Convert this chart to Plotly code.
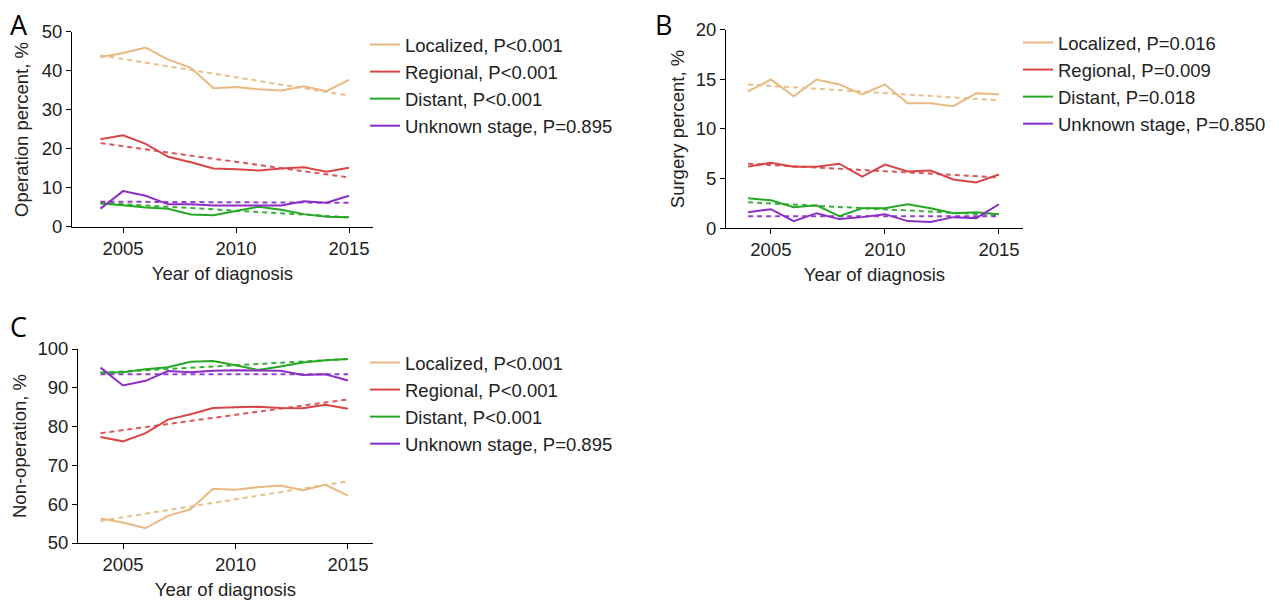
import plotly.graph_objects as go

years = list(range(2004, 2016))
stages = ["Localized", "Regional", "Distant", "Unknown stage"]
colors = ["#E9B981", "#D94545", "#25A825", "#8B2DC6"]

# Panel A: operation percent
a_labels = ["Localized, P<0.001", "Regional, P<0.001", "Distant, P<0.001", "Unknown stage, P=0.895"]
a_localized = [43.5, 44.6, 46.0, 42.9, 40.8, 35.6, 35.9, 35.3, 35.0, 36.1, 34.8, 37.7]
a_regional = [22.5, 23.5, 21.3, 18.0, 16.6, 15.0, 14.8, 14.5, 15.0, 15.3, 14.2, 15.2]
a_distant = [6.0, 5.6, 5.0, 4.7, 3.2, 3.0, 4.1, 5.2, 4.4, 3.3, 2.6, 2.5]
a_unknown = [4.7, 9.2, 8.0, 5.8, 5.8, 5.5, 5.5, 5.5, 5.5, 6.6, 6.2, 8.0]
a_trend_start = [44.0, 21.5, 6.2, 6.5]
a_trend_end = [33.7, 12.7, 2.5, 6.2]

# Panel B: surgery percent
b_labels = ["Localized, P=0.016", "Regional, P=0.009", "Distant, P=0.018", "Unknown stage, P=0.850"]
b_localized = [13.8, 15.0, 13.3, 15.0, 14.5, 13.5, 14.5, 12.6, 12.6, 12.3, 13.6, 13.5]
b_regional = [6.2, 6.6, 6.2, 6.2, 6.5, 5.2, 6.4, 5.7, 5.8, 4.9, 4.6, 5.4]
b_distant = [3.0, 2.8, 2.1, 2.3, 1.2, 2.0, 2.0, 2.4, 2.0, 1.5, 1.6, 1.4]
b_unknown = [1.6, 1.9, 0.7, 1.5, 0.9, 1.1, 1.4, 0.7, 0.6, 1.1, 1.0, 2.4]
b_trend_start = [14.5, 6.5, 2.6, 1.2]
b_trend_end = [12.9, 5.1, 1.3, 1.2]

# Panel C: non-operation percent
c_labels = ["Localized, P<0.001", "Regional, P<0.001", "Distant, P<0.001", "Unknown stage, P=0.895"]
c_localized = [56.3, 55.3, 53.8, 57.0, 58.7, 64.0, 63.7, 64.4, 64.8, 63.6, 65.0, 62.2]
c_regional = [77.3, 76.2, 78.3, 81.8, 83.2, 84.8, 85.0, 85.1, 84.8, 84.7, 85.6, 84.6]
c_distant = [93.9, 94.0, 94.8, 95.3, 96.7, 96.9, 95.8, 94.6, 95.5, 96.5, 97.1, 97.4]
c_unknown = [95.2, 90.6, 91.8, 94.3, 94.0, 94.4, 94.5, 94.5, 94.4, 93.3, 93.5, 91.9]
c_trend_start = [55.7, 78.3, 93.9, 93.5]
c_trend_end = [65.9, 87.0, 97.4, 93.5]

panels = [
    dict(series=[a_localized, a_regional, a_distant, a_unknown], labels=a_labels,
         ts=a_trend_start, te=a_trend_end, xa="x", ya="y", legend="legend"),
    dict(series=[b_localized, b_regional, b_distant, b_unknown], labels=b_labels,
         ts=b_trend_start, te=b_trend_end, xa="x2", ya="y2", legend="legend2"),
    dict(series=[c_localized, c_regional, c_distant, c_unknown], labels=c_labels,
         ts=c_trend_start, te=c_trend_end, xa="x3", ya="y3", legend="legend3"),
]

fig = go.Figure()
for p in panels:
    for i in range(4):
        fig.add_trace(go.Scatter(
            x=[years[0], years[-1]], y=[p["ts"][i], p["te"][i]], mode="lines",
            line=dict(color=colors[i], width=2, dash="5px,4px"), opacity=0.9,
            showlegend=False, xaxis=p["xa"], yaxis=p["ya"], hoverinfo="skip"))
    for i in range(4):
        fig.add_trace(go.Scatter(
            x=years, y=p["series"][i], mode="lines", name=p["labels"][i],
            line=dict(color=colors[i], width=2),
            xaxis=p["xa"], yaxis=p["ya"], legend=p["legend"]))

font = "Liberation Sans, Arial, sans-serif"
FS = 18.5
axis_common = dict(showline=True, linecolor="black", linewidth=1, ticks="outside",
                   ticklen=5, tickcolor="black", showgrid=False, zeroline=False,
                   automargin=False,
                   tickfont=dict(family=font, size=FS, color="#222"),
                   title_font=dict(family=font, size=FS, color="#222"))

def xax(domain, rng):
    return dict(axis_common, domain=domain, range=rng, tickvals=[2005, 2010, 2015],
                title=dict(text="Year of diagnosis", standoff=8))

def yax(domain, rng, dtick, title, anchor, standoff):
    return dict(axis_common, domain=domain, range=rng, dtick=dtick, anchor=anchor,
                title=dict(text=title, standoff=standoff))

legend_common = dict(font=dict(family=font, size=FS, color="#222"), bgcolor="rgba(0,0,0,0)",
                     xanchor="left", yanchor="top", tracegroupgap=0)

fig.update_layout(
    width=1279, height=601, margin=dict(l=0, r=0, t=0, b=0, autoexpand=False),
    paper_bgcolor="white", plot_bgcolor="white",
    xaxis=dict(xax([0.0563, 0.2916], [2002.74, 2016.06]), anchor="y"),
    yaxis=yax([0.6223, 0.9468], [0, 50], 10, "Operation percent, %", "x", 8),
    xaxis2=dict(xax([0.5676, 0.7998], [2003.03, 2016.05]), anchor="y2"),
    yaxis2=yax([0.6206, 0.9501], [0, 20], 5, "Surgery percent, %", "x2", 6),
    xaxis3=dict(xax([0.061, 0.2916], [2003.0, 2016.11]), anchor="y3"),
    yaxis3=yax([0.0965, 0.4193], [50, 100], 10, "Non-operation, %", "x3", 5),
    legend=dict(legend_common, x=365 / 1279, y=1 - 26 / 601),
    legend2=dict(legend_common, x=1018 / 1279, y=1 - 24 / 601),
    legend3=dict(legend_common, x=365 / 1279, y=1 - 344 / 601),
    showlegend=True,
    annotations=[
        dict(text="A", x=8 / 1279, y=1 - 4 / 601, xref="paper", yref="paper",
             xanchor="left", yanchor="top", showarrow=False,
             font=dict(family="Open Sans, sans-serif", size=27, color="black")),
        dict(text="B", x=653 / 1279, y=1 - 4 / 601, xref="paper", yref="paper",
             xanchor="left", yanchor="top", showarrow=False,
             font=dict(family="Open Sans, sans-serif", size=27, color="black")),
        dict(text="C", x=8 / 1279, y=1 - 306 / 601, xref="paper", yref="paper",
             xanchor="left", yanchor="top", showarrow=False,
             font=dict(family="Open Sans, sans-serif", size=27, color="black")),
    ],
)

fig.write_html("out.html", config={"displayModeBar": False},
               post_script="document.body.style.margin='0';")
